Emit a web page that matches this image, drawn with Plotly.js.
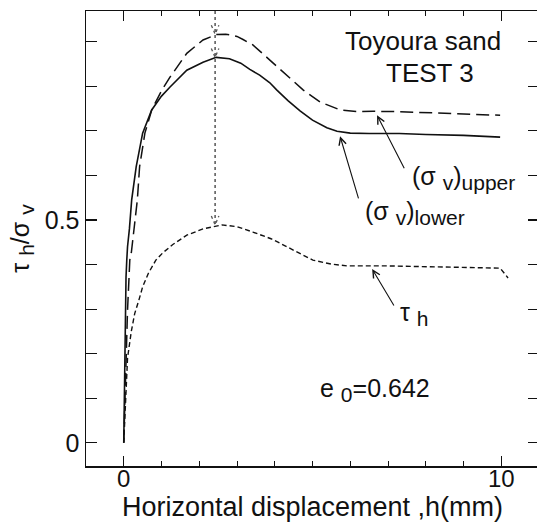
<!DOCTYPE html>
<html>
<head>
<meta charset="utf-8">
<script src="https://cdn.plot.ly/plotly-3.0.1.min.js"></script>
<style>
html,body{margin:0;padding:0;overflow:hidden;background:#fff;}
#chart{width:539px;height:525px;}
</style>
</head>
<body>
<div id="chart"></div>
<script>
// (σv)lower : solid
const lowerX = [0, 0.02, 0.04, 0.06, 0.08, 0.1, 0.15, 0.21, 0.33, 0.5, 0.74, 1.0, 1.22, 1.67, 2.1, 2.45, 2.8, 3.1, 3.34, 3.6, 3.87, 4.05, 4.35, 4.67, 5.0, 5.38, 5.65, 6.0, 6.5, 7.3, 8.0, 9.0, 9.97];
const lowerY = [0, 0.186, 0.298, 0.372, 0.41, 0.44, 0.48, 0.545, 0.62, 0.695, 0.747, 0.778, 0.798, 0.836, 0.854, 0.865, 0.862, 0.852, 0.838, 0.825, 0.808, 0.792, 0.768, 0.745, 0.724, 0.707, 0.699, 0.695, 0.694, 0.694, 0.692, 0.69, 0.686];
// (σv)upper : long dashes
const upperX = [0, 0.03, 0.05, 0.1, 0.14, 0.16, 0.2, 0.3, 0.36, 0.42, 0.56, 0.74, 1.0, 1.22, 1.67, 2.1, 2.45, 2.7, 3.0, 3.16, 3.42, 3.79, 4.05, 4.32, 4.75, 5.2, 5.73, 6.2, 6.6, 7.3, 8.0, 9.0, 9.97];
const upperY = [0, 0.1, 0.186, 0.298, 0.372, 0.41, 0.426, 0.5, 0.545, 0.62, 0.695, 0.747, 0.79, 0.82, 0.874, 0.904, 0.916, 0.917, 0.912, 0.905, 0.893, 0.865, 0.845, 0.825, 0.792, 0.765, 0.747, 0.743, 0.744, 0.743, 0.741, 0.738, 0.735];
// τh : short dashes
const tauX = [0, 0.05, 0.1, 0.2, 0.29, 0.4, 0.5, 0.65, 0.85, 1.03, 1.3, 1.67, 2.1, 2.6, 3.0, 3.42, 3.9, 4.32, 4.7, 5.01, 5.5, 5.92, 6.98, 7.85, 9.0, 9.97, 10.18];
const tauY = [0, 0.11, 0.19, 0.25, 0.29, 0.32, 0.35, 0.38, 0.41, 0.426, 0.445, 0.466, 0.48, 0.489, 0.485, 0.473, 0.458, 0.44, 0.423, 0.41, 0.401, 0.397, 0.397, 0.396, 0.394, 0.392, 0.37];

const xTickVals = [0, 10];
const xTickText = ['0', '10'];
const xMinorVals = [1, 2, 3, 4, 5, 6, 7, 8, 9];
const yTickVals = [0, 0.5];
const yTickText = ['0', '0.5'];
const yMinorVals = [0.1, 0.2, 0.3, 0.4, 0.6, 0.7, 0.8, 0.9];

const peakX = 2.42; // position of the vertical dotted marker
const peakTargets = [Math.max(...upperY), Math.max(...lowerY), Math.max(...tauY)];

const FONT = 'Liberation Sans, Arial, Helvetica, sans-serif';

const traces = [
  {x: lowerX, y: lowerY, mode: 'lines', line: {color: '#111', width: 1.6}, hoverinfo: 'skip'},
  {x: upperX, y: upperY, mode: 'lines', line: {color: '#111', width: 1.5, dash: '13px,6px'}, hoverinfo: 'skip'},
  {x: tauX, y: tauY, mode: 'lines', line: {color: '#111', width: 1.4, dash: '5px,3px'}, hoverinfo: 'skip'}
];

const shapes = [
  {type: 'line', xref: 'x', yref: 'y', x0: peakX, x1: peakX, y0: 0.969, y1: peakTargets[2],
   line: {color: '#555', width: 1.5, dash: 'dot'}}
];
peakTargets.forEach(function (yt) {
  const dx = 0.1, dy = 0.02;
  shapes.push({type: 'path', xref: 'x', yref: 'y',
    path: 'M' + (peakX - dx) + ',' + (yt + dy) + ' L' + peakX + ',' + yt + ' L' + (peakX + dx) + ',' + (yt + dy),
    line: {color: '#555', width: 1.3, dash: 'dot'}});
});

function arrow(x, y, ax, ay) {
  return {x: x, y: y, ax: ax, ay: ay, xref: 'x', yref: 'y', axref: 'x', ayref: 'y',
    text: '', showarrow: true, arrowhead: 5, arrowsize: 1.3, arrowwidth: 1.1, arrowcolor: '#111', standoff: 0};
}
function label(x, y, text, xanchor, size) {
  return {x: x, y: y, xref: 'x', yref: 'y', text: text, showarrow: false, xanchor: xanchor || 'left',
    yanchor: 'middle', font: {family: FONT, size: size || 25, color: '#111'}};
}
const SUB = function (t) { return '<sub><span style="font-size:21px">' + t + '</span></sub>'; };

const annotations = [
  arrow(6.71, 0.735, 7.45, 0.613),
  arrow(5.73, 0.688, 6.23, 0.545),
  arrow(6.58, 0.39, 7.18, 0.305),
  label(7.58, 0.595, '(σ ' + SUB('v') + ')' + SUB('upper')),
  label(6.34, 0.516, '(σ ' + SUB('v') + ')' + SUB('lower')),
  label(7.26, 0.29, 'τ ' + SUB('h')),
  label(5.15, 0.119, 'e ' + SUB('0') + '=0.642'),
  label(7.93, 0.902, 'Toyoura sand', 'center', 26),
  label(8.11, 0.830, 'TEST 3', 'center', 26)
];

const layout = {
  width: 539, height: 525,
  margin: {l: 86, r: 0, t: 11, b: 59},
  paper_bgcolor: '#fff', plot_bgcolor: '#fff',
  showlegend: false,
  font: {family: FONT, color: '#111'},
  xaxis: {
    range: [-1, 11], showline: true, linecolor: '#111', linewidth: 1.5, mirror: 'ticks',
    ticks: 'inside', ticklen: 10, tickwidth: 1.2, tickcolor: '#111',
    tickmode: 'array', tickvals: xTickVals, ticktext: xTickText,
    minor: {tickmode: 'array', tickvals: xMinorVals, ticks: 'inside', ticklen: 5, tickwidth: 1, tickcolor: '#111'},
    showgrid: false, zeroline: false,
    ticklabelstandoff: -9,
    tickfont: {family: FONT, size: 24, color: '#111'},
    title: {text: 'Horizontal displacement ,h(mm)', font: {family: FONT, size: 27, color: '#111'}, standoff: 0}
  },
  yaxis: {
    range: [-0.052, 0.969], showline: true, linecolor: '#111', linewidth: 1.5, mirror: 'ticks',
    ticks: 'inside', ticklen: 11, tickwidth: 1.2, tickcolor: '#111',
    tickmode: 'array', tickvals: yTickVals, ticktext: yTickText,
    minor: {tickmode: 'array', tickvals: yMinorVals, ticks: 'inside', ticklen: 11, tickwidth: 1.2, tickcolor: '#111'},
    showgrid: false, zeroline: false,
    tickfont: {family: FONT, size: 25, color: '#111'},
    title: {text: 'τ ' + SUB('h') + '/σ ' + SUB('v'), font: {family: FONT, size: 25, color: '#111'}, standoff: 8}
  },
  shapes: shapes,
  annotations: annotations
};

Plotly.newPlot('chart', traces, layout, {displayModeBar: false, staticPlot: true});
</script>
</body>
</html>
